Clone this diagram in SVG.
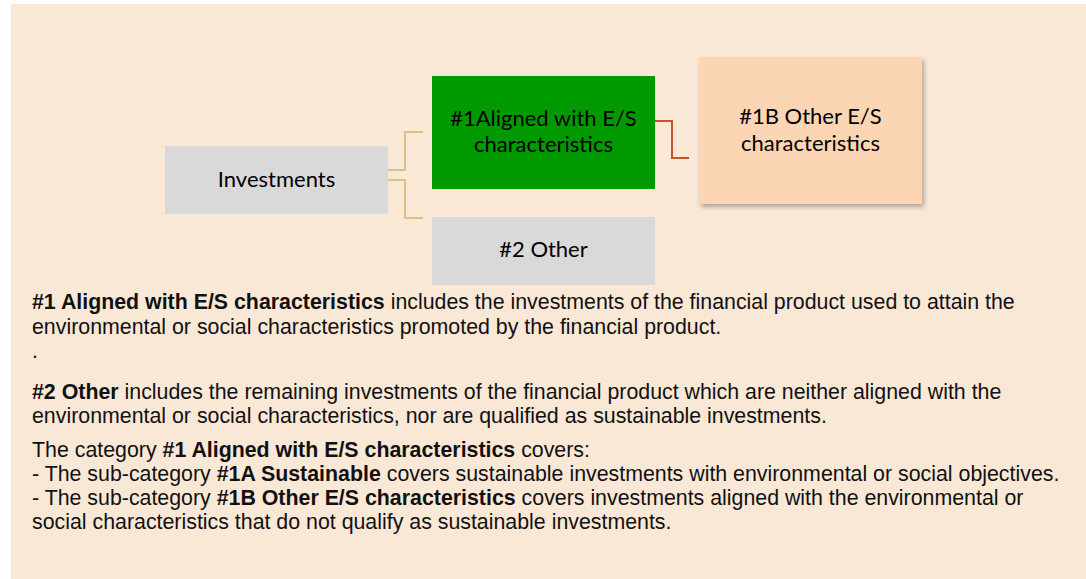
<svg xmlns="http://www.w3.org/2000/svg" width="1086" height="579" viewBox="0 0 1086 579">
<defs>
<style>
.box{stroke:none}
.gray{fill:#d9d9d9}
.lbl{font-family:Lato,"Open Sans",sans-serif;font-size:22px;fill:#000;text-anchor:middle}
.body{font-family:"Liberation Sans",Arial,sans-serif;font-size:21.35px;fill:#111}
.b{font-weight:bold}
.c1{fill:none;stroke:#d5c67c;stroke-width:2}
.c2{fill:none;stroke:#cd4f2c;stroke-width:2}
</style>
<filter id="sh" x="-10%" y="-10%" width="125%" height="130%">
<feDropShadow dx="2" dy="3" stdDeviation="2.5" flood-color="#000" flood-opacity="0.3"/>
</filter>
</defs>
<rect x="0" y="0" width="1086" height="579" fill="#ffffff"/>
<rect x="11" y="4" width="1075" height="575" fill="#fae8d7"/>
<g id="connectors">
<polyline class="c1" points="388,170 405,170 405,132 423,132"/>
<polyline class="c1" points="388,180 405,180 405,218 423,218"/>
<polyline class="c2" points="655,121 672,121 672,158 689,158"/>
</g>
<g id="investments">
<rect class="box gray" x="165" y="146" width="223" height="68"/>
<text class="lbl" x="276.5" y="187">Investments</text>
</g>
<g id="aligned">
<rect class="box" x="432" y="76" width="223" height="113" fill="#009900"/>
<text class="lbl" x="543.5" y="126">#1Aligned with E/S</text>
<text class="lbl" x="543.5" y="152">characteristics</text>
</g>
<g id="other">
<rect class="box gray" x="432" y="217" width="223" height="68"/>
<text class="lbl" x="543.5" y="257">#2 Other</text>
</g>
<g id="other-es">
<rect class="box" x="699" y="57" width="223" height="147" fill="#fcd5b4" filter="url(#sh)"/>
<text class="lbl" x="810.5" y="124">#1B Other E/S</text>
<text class="lbl" x="810.5" y="151">characteristics</text>
</g>
<g id="text">
<text class="body" x="32" y="309"><tspan class="b">#1 Aligned with E/S characteristics</tspan> includes the investments of the financial product used to attain the</text>
<text class="body" x="32" y="334">environmental or social characteristics promoted by the financial product.</text>
<text class="body" x="32" y="358">.</text>
<text class="body" x="32" y="399"><tspan class="b">#2 Other</tspan> includes the remaining investments of the financial product which are neither aligned with the</text>
<text class="body" x="32" y="423">environmental or social characteristics, nor are qualified as sustainable investments.</text>
<text class="body" x="32" y="457">The category <tspan class="b">#1 Aligned with E/S characteristics</tspan> covers:</text>
<text class="body" x="32" y="481">- The sub-category <tspan class="b">#1A Sustainable</tspan> covers sustainable investments with environmental or social objectives.</text>
<text class="body" x="32" y="505">- The sub-category <tspan class="b">#1B Other E/S characteristics</tspan> covers investments aligned with the environmental or</text>
<text class="body" x="32" y="529">social characteristics that do not qualify as sustainable investments.</text>
</g>
</svg>
